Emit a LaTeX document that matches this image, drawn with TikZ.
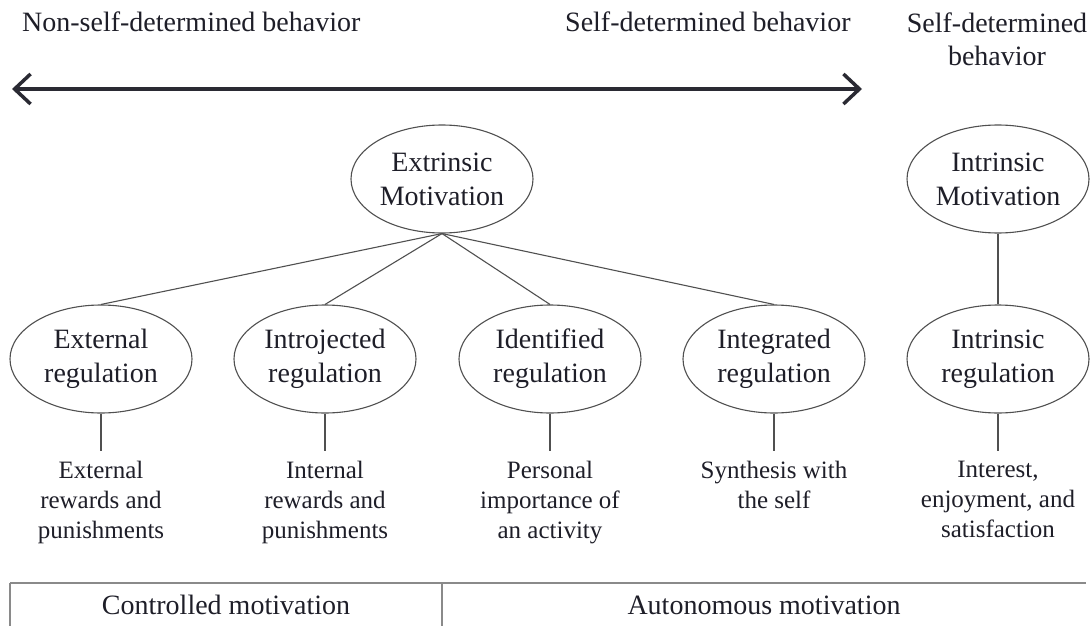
\documentclass[tikz,border=0pt]{standalone}
\usepackage{fontspec}
\setmainfont{Liberation Serif}
\usetikzlibrary{shapes.geometric,arrows.meta}
\definecolor{ink}{HTML}{1E1E28}
\definecolor{edgecol}{HTML}{505050}
\definecolor{rulecol}{HTML}{8A8A8A}
\definecolor{arrowcol}{HTML}{2A2A33}
\begin{document}
\begin{tikzpicture}[x=1pt,y=-1pt,
  every node/.style={text=ink, font=\fontsize{28}{34}\selectfont, inner sep=0pt},
  oval/.style={ellipse, draw=edgecol, line width=1.1pt, minimum width=182pt, minimum height=108pt, align=center},
  lbl/.style={align=center, anchor=north, font=\fontsize{25}{30}\selectfont},
  conn/.style={draw=edgecol, line width=1.1pt},
  tip/.style={Straight Barb[length=16pt,width=30pt]}
  ]
\useasboundingbox (0,0) rectangle (1092,626);
% top labels
\node[anchor=base west] (ns) at (22,32) {Non-self-determined behavior};
\node[anchor=base west] (sd) at (565,32) {Self-determined behavior};
\node[align=center, anchor=north, font=\fontsize{28}{33}\selectfont] (sd2) at (997,13) {Self-determined\\behavior};
% arrow
\coordinate (aL) at (12,89);
\coordinate (aR) at (862,89);
\draw[draw=arrowcol, line width=3.5pt, {Straight Barb[length=16pt,width=30pt]}-{Straight Barb[length=16pt,width=30pt]}] (aL) -- (aR);
% ellipses
\node[oval] (em) at (442,179) {Extrinsic\\Motivation};
\node[oval] (im) at (998,179) {Intrinsic\\Motivation};
\node[oval] (er) at (101,359) {External\\regulation};
\node[oval] (jr) at (325,359) {Introjected\\regulation};
\node[oval] (dr) at (550,359) {Identified\\regulation};
\node[oval] (gr) at (774,359) {Integrated\\regulation};
\node[oval] (ir) at (998,359) {Intrinsic\\regulation};
% tree connectors
\draw[conn] (em.south) -- (er.north);
\draw[conn] (em.south) -- (jr.north);
\draw[conn] (em.south) -- (dr.north);
\draw[conn] (em.south) -- (gr.north);
\draw[conn] (im.south) -- (ir.north);
% descriptions
\node[lbl] (ert) at (101,461) {External\\rewards and\\punishments};
\node[lbl] (jrt) at (325,461) {Internal\\rewards and\\punishments};
\node[lbl] (drt) at (550,461) {Personal\\importance of\\an activity};
\node[lbl] (grt) at (774,461) {Synthesis with\\the self};
\node[lbl] (irt) at (998,461) {Interest,\\enjoyment, and\\satisfaction};
\draw[conn] (er.south) -- ([yshift=10pt]ert.north);
\draw[conn] (jr.south) -- ([yshift=10pt]jrt.north);
\draw[conn] (dr.south) -- ([yshift=10pt]drt.north);
\draw[conn] (gr.south) -- ([yshift=10pt]grt.north);
\draw[conn] (ir.south) -- ([yshift=10pt]irt.north);
% bottom table
\coordinate (tl) at (10,583);
\coordinate (tr) at (1086,583);
\coordinate (tm) at (442,583);
\coordinate (bl) at (10,626);
\coordinate (bm) at (442,626);
\draw[draw=rulecol, line width=2pt] (tl) -- (tr);
\draw[draw=rulecol, line width=1.3pt] (tl) -- (bl);
\draw[draw=rulecol, line width=1.3pt] (tm) -- (bm);
\node[anchor=base] (cm) at (226,614) {Controlled motivation};
\node[anchor=base] (am) at (764,614) {Autonomous motivation};
\end{tikzpicture}
\end{document}
